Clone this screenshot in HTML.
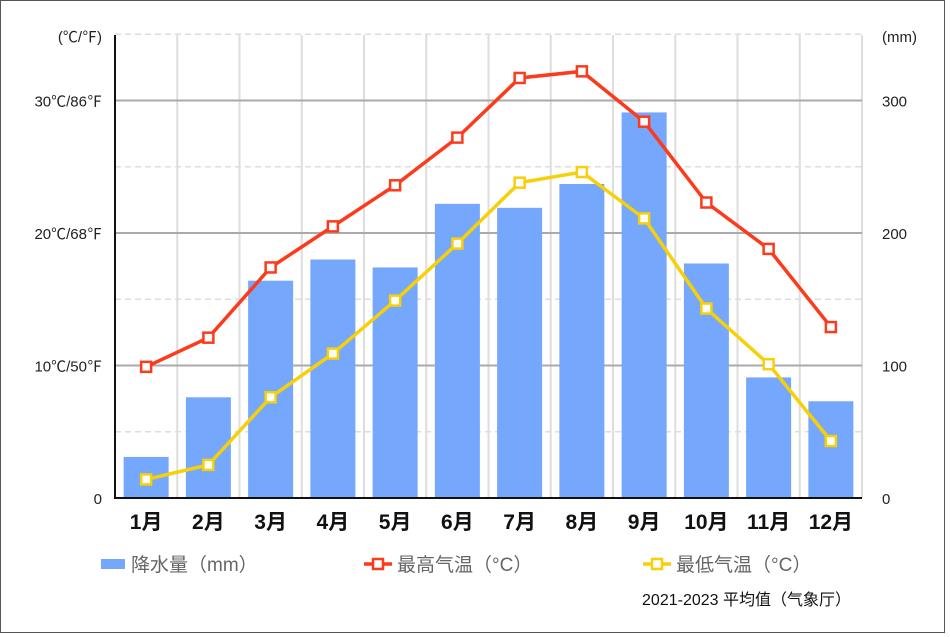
<!DOCTYPE html>
<html><head><meta charset="utf-8"><style>
body{margin:0;background:#fff}
svg{display:block;font-family:"Liberation Sans","Noto Sans CJK JP",sans-serif}
</style></head><body>
<svg id="c" width="950" height="637">
<rect x="0.5" y="0.5" width="944" height="632" fill="#fff" stroke="#555"/>
<g id="grid"></g><g id="bars"></g><g id="lines"></g><g id="axes"></g>
</svg>
<script>
const months=["1月","2月","3月","4月","5月","6月","7月","8月","9月","10月","11月","12月"];
const precip=[31,76,164,180,174,222,219,237,291,177,91,73];
const tmax=[9.9,12.1,17.4,20.5,23.6,27.2,31.7,32.2,28.4,22.3,18.8,12.9];
const tmin=[1.4,2.5,7.6,10.9,14.9,19.2,23.8,24.6,21.1,14.3,10.1,4.3];
const leftTicks=["0","10℃/50℉","20℃/68℉","30℃/86℉"];
const rightTicks=["0","100","200","300"];
const NS="http://www.w3.org/2000/svg";
const X0=115,X1=862,Y0=498,YT=35,PX=13.25;
const cw=(X1-X0)/12;
const xc=i=>X0+cw*(i+0.5);
const yT=t=>Y0-t*PX;
const yP=p=>Y0-p*PX/10;
function mk(tag,attrs,parent,txt){const e=document.createElementNS(NS,tag);for(const k in attrs)e.setAttribute(k,attrs[k]);if(txt!==undefined)e.textContent=txt;document.getElementById(parent).appendChild(e);return e;}
// grid
for(let i=1;i<=12;i++){const e=mk("line",{x1:X0+cw*i,x2:X0+cw*i,y1:YT,y2:Y0,stroke:"#ddd","stroke-width":2},"grid");

}
for(let k=1;k<=7;k++){const y=yT(k*5);const solid=k%2==0;const e=mk("line",{x1:X0,x2:X1,y1:y,y2:y,stroke:solid?"#aaa":"#ddd","stroke-width":solid?2:1.5,"stroke-dasharray":solid?"":"6,4"},"grid");

}
// bars
precip.forEach((p,i)=>{const e=mk("rect",{x:xc(i)-22.5,y:yP(p),width:45,height:Y0-yP(p),fill:"#75a7fc"},"bars");

});
// lines
function series(arr,color,name){const pts=arr.map((t,i)=>xc(i)+","+yT(t)).join(" ");
const l=mk("polyline",{points:pts,fill:"none",stroke:color,"stroke-width":3.5},"lines");


arr.forEach((t,i)=>{const m=mk("rect",{x:xc(i)-5,y:yT(t)-5,width:10,height:10,fill:"#fff",stroke:color,"stroke-width":2.5},"lines");

});}
series(tmin,"#f7d00a","min-temp");
series(tmax,"#fb3b1c","max-temp");
// axes
let a=mk("line",{x1:X0,x2:X0,y1:YT,y2:Y0+1,stroke:"#111","stroke-width":2},"axes");

a=mk("line",{x1:X0,x2:X1,y1:Y0,y2:Y0,stroke:"#111","stroke-width":2},"axes");

leftTicks.forEach((s,k)=>{const e=mk("text",{x:102,y:yT(k*10)+6,"text-anchor":"end","font-size":15,fill:"#222"},"axes",s);
});
rightTicks.forEach((s,k)=>{const e=mk("text",{x:882,y:yP(k*100)+6,"font-size":15,fill:"#222"},"axes",s);
});
a=mk("text",{x:102,y:42,"text-anchor":"end","font-size":15,fill:"#222"},"axes","(℃/℉)");

a=mk("text",{x:882,y:42,"font-size":15,fill:"#222"},"axes","(mm)");

months.forEach((m,i)=>{const e=mk("text",{x:xc(i),y:529,"text-anchor":"middle","font-size":21,"font-weight":"bold",fill:"#111"},"axes",m);
});
// legend
a=mk("rect",{x:101,y:559,width:24,height:10,fill:"#75a7fc"},"axes");

a=mk("text",{x:131,y:571,"font-size":19,fill:"#666"},"axes","降水量（mm）");

a=mk("line",{x1:364,x2:392,y1:564,y2:564,stroke:"#fb3b1c","stroke-width":3.5},"axes");

a=mk("rect",{x:373,y:559,width:10,height:10,fill:"#fff",stroke:"#fb3b1c","stroke-width":2.5},"axes");

a=mk("text",{x:397,y:571,"font-size":19,fill:"#666"},"axes","最高气温（°C）");

a=mk("line",{x1:643,x2:671,y1:564,y2:564,stroke:"#f7d00a","stroke-width":3.5},"axes");

a=mk("rect",{x:652,y:559,width:10,height:10,fill:"#fff",stroke:"#f7d00a","stroke-width":2.5},"axes");

a=mk("text",{x:676,y:571,"font-size":19,fill:"#666"},"axes","最低气温（°C）");

a=mk("text",{x:851,y:605,"text-anchor":"end","font-size":16,fill:"#111"},"axes","2021-2023 平均值（气象厅）");

</script>
</body></html>
